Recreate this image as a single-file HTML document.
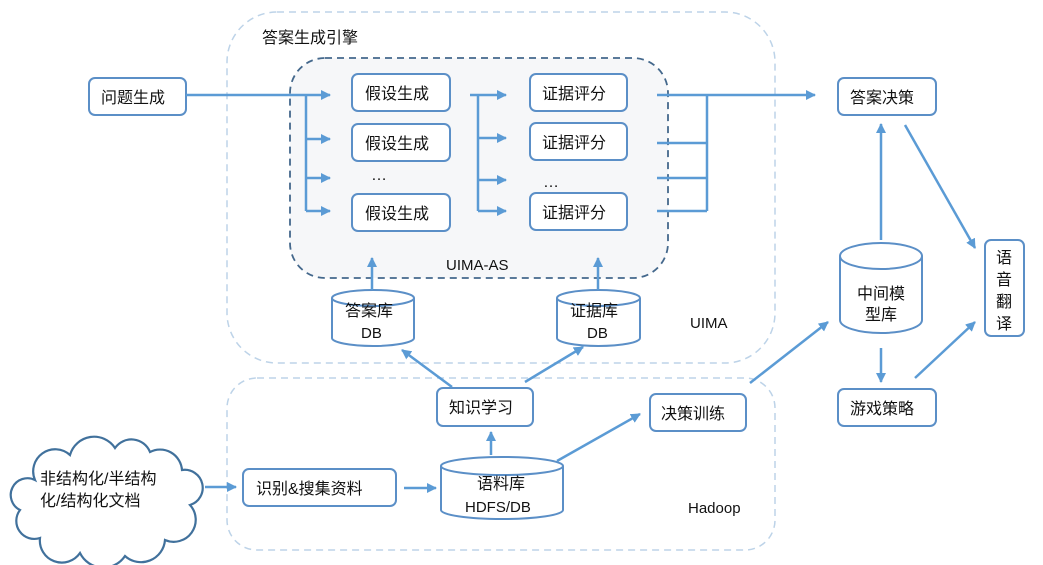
<!DOCTYPE html>
<html><head><meta charset="utf-8"><style>
html,body{margin:0;padding:0;background:#fff;}
svg{display:block;font-family:"Liberation Sans","Noto Sans CJK SC",sans-serif;}
text{fill:#111;font-size:16px;}
</style></head><body>
<svg width="1043" height="565" viewBox="0 0 1043 565" xmlns="http://www.w3.org/2000/svg">
<defs>
<marker id="a" markerWidth="10" markerHeight="10" refX="9" refY="5" orient="auto" markerUnits="userSpaceOnUse"><path d="M0,0 L10,5 L0,10 Z" fill="#5b9bd5"/></marker>
</defs>
<rect x="227" y="12" width="548" height="351" rx="50" fill="none" stroke="#bdd3e8" stroke-width="1.5" stroke-dasharray="7,5"/>
<rect x="227" y="378" width="548" height="172" rx="30" fill="none" stroke="#bdd3e8" stroke-width="1.5" stroke-dasharray="7,5"/>
<rect x="290" y="58" width="378" height="220" rx="35" fill="#f6f7f9" stroke="#44688c" stroke-width="1.8" stroke-dasharray="7,5"/>
<text x="262" y="43">答案生成引擎</text>
<text x="446" y="270" style="font-size:15px">UIMA-AS</text>
<text x="690" y="328" style="font-size:15px">UIMA</text>
<text x="688" y="513" style="font-size:15px">Hadoop</text>

<g fill="#fff" stroke="#5b8fc7" stroke-width="2">
<rect x="89" y="78" width="97" height="37" rx="6"/>
<rect x="352" y="74" width="98" height="37" rx="6"/>
<rect x="352" y="124" width="98" height="37" rx="6"/>
<rect x="352" y="194" width="98" height="37" rx="6"/>
<rect x="530" y="74" width="97" height="37" rx="6"/>
<rect x="530" y="123" width="97" height="37" rx="6"/>
<rect x="530" y="193" width="97" height="37" rx="6"/>
<rect x="838" y="78" width="98" height="37" rx="6"/>
<rect x="437" y="388" width="96" height="38" rx="6"/>
<rect x="650" y="394" width="96" height="37" rx="6"/>
<rect x="243" y="469" width="153" height="37" rx="6"/>
<rect x="838" y="389" width="98" height="37" rx="6"/>
<rect x="985" y="240" width="39" height="96" rx="6"/>
</g>
<text x="101" y="103">问题生成</text>
<text x="365" y="99">假设生成</text>
<text x="365" y="149">假设生成</text>
<text x="365" y="219">假设生成</text>
<text x="371" y="180">…</text>
<text x="542" y="99">证据评分</text>
<text x="542" y="148">证据评分</text>
<text x="542" y="218">证据评分</text>
<text x="543" y="187">…</text>
<text x="850" y="103">答案决策</text>
<text x="449" y="413">知识学习</text>
<text x="661" y="419">决策训练</text>
<text x="256" y="494">识别&amp;搜集资料</text>
<text x="850" y="414">游戏策略</text>
<text x="996" y="263">语</text>
<text x="996" y="285">音</text>
<text x="996" y="307">翻</text>
<text x="996" y="329">译</text>

<g fill="#fff" stroke="#5b8fc7" stroke-width="2">
<path d="M332,298 V338 A41,8 0 0 0 414,338 V298"/><ellipse cx="373" cy="298" rx="41" ry="8"/>
<path d="M557,298 V338 A41.5,8 0 0 0 640,338 V298"/><ellipse cx="598.5" cy="298" rx="41.5" ry="8"/>
<path d="M441,466 V510 A61,9 0 0 0 563,510 V466"/><ellipse cx="502" cy="466" rx="61" ry="9"/>
<path d="M840,256 V320 A41,13 0 0 0 922,320 V256"/><ellipse cx="881" cy="256" rx="41" ry="13"/>
</g>
<text x="345" y="316">答案库</text><text x="361" y="338" style="font-size:15px">DB</text>
<text x="570" y="316">证据库</text><text x="587" y="338" style="font-size:15px">DB</text>
<text x="477" y="489">语料库</text><text x="465" y="512" style="font-size:15px">HDFS/DB</text>
<text x="857" y="299">中间模</text><text x="865" y="320">型库</text>

<path d="M35,480 A22,22 0 0 1 70,455 A25,25 0 0 1 115,448 A20,20 0 0 1 150,452 A22,22 0 0 1 182,470 A18,18 0 0 1 190,505 A22,22 0 0 1 165,540 A24,24 0 0 1 125,556 A26,26 0 0 1 80,553 A22,22 0 0 1 40,538 A18,18 0 0 1 20,510 A16,16 0 0 1 35,480 Z" fill="#fff" stroke="#41719c" stroke-width="2.2"/>
<text x="40" y="484">非结构化/半结构</text>
<text x="40" y="506">化/结构化文档</text>

<g stroke="#5b9bd5" stroke-width="2.5" fill="none">
<line x1="186" y1="95" x2="330" y2="95" marker-end="url(#a)"/>
<line x1="306" y1="95" x2="306" y2="211"/>
<line x1="306" y1="139" x2="330" y2="139" marker-end="url(#a)"/>
<line x1="306" y1="178" x2="330" y2="178" marker-end="url(#a)"/>
<line x1="306" y1="211" x2="330" y2="211" marker-end="url(#a)"/>
<line x1="478" y1="95" x2="478" y2="211"/>
<line x1="470" y1="95" x2="506" y2="95" marker-end="url(#a)"/>
<line x1="478" y1="138" x2="506" y2="138" marker-end="url(#a)"/>
<line x1="478" y1="180" x2="506" y2="180" marker-end="url(#a)"/>
<line x1="478" y1="211" x2="506" y2="211" marker-end="url(#a)"/>
<line x1="657" y1="95" x2="815" y2="95" marker-end="url(#a)"/>
<line x1="657" y1="143" x2="707" y2="143"/>
<line x1="657" y1="178" x2="707" y2="178"/>
<line x1="657" y1="211" x2="707" y2="211"/>
<line x1="707" y1="95" x2="707" y2="211"/>
<line x1="372" y1="290" x2="372" y2="258" marker-end="url(#a)"/>
<line x1="598" y1="290" x2="598" y2="258" marker-end="url(#a)"/>
<line x1="452" y1="387" x2="402" y2="350" marker-end="url(#a)"/>
<line x1="525" y1="382" x2="583" y2="347" marker-end="url(#a)"/>
<line x1="491" y1="455" x2="491" y2="432" marker-end="url(#a)"/>
<line x1="557" y1="461" x2="640" y2="414" marker-end="url(#a)"/>
<line x1="205" y1="487" x2="236" y2="487" marker-end="url(#a)"/>
<line x1="404" y1="488" x2="436" y2="488" marker-end="url(#a)"/>
<line x1="750" y1="383" x2="828" y2="322" marker-end="url(#a)"/>
<line x1="881" y1="240" x2="881" y2="124" marker-end="url(#a)"/>
<line x1="881" y1="348" x2="881" y2="382" marker-end="url(#a)"/>
<line x1="905" y1="125" x2="975" y2="248" marker-end="url(#a)"/>
<line x1="915" y1="378" x2="975" y2="322" marker-end="url(#a)"/>
</g>
</svg>
</body></html>
